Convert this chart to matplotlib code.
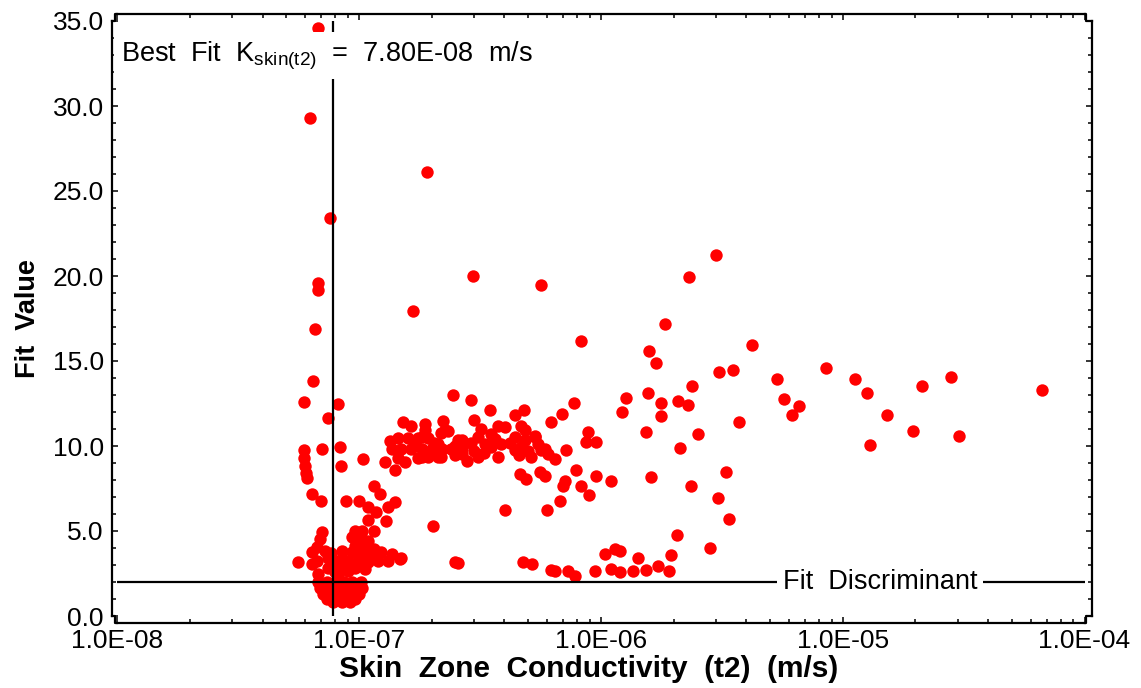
import matplotlib
matplotlib.use("Agg")
import matplotlib.pyplot as plt
from matplotlib.ticker import FixedLocator, LogLocator, MultipleLocator, NullFormatter
from matplotlib.lines import Line2D
from matplotlib.transforms import IdentityTransform
import numpy as np

plt.rcParams['font.family'] = ['Liberation Sans', 'DejaVu Sans']
plt.rcParams['mathtext.fontset'] = 'custom'
plt.rcParams['mathtext.rm'] = 'Liberation Sans'

# ---------------- data ----------------
best_fit_k = 7.80e-8
fit_discriminant = 2.0

# left, near-vertical branch
branch_x = [6.76e-8, 6.3e-8, 7.6e-8, 6.8e-8, 6.8e-8, 6.6e-8, 6.49e-8, 5.93e-8, 8.23e-8, 7.48e-8,
            5.93e-8, 5.93e-8, 6.0e-8, 6.05e-8, 6.08e-8, 7.02e-8, 8.35e-8, 8.43e-8, 6.38e-8, 6.97e-8]
branch_y = [34.6, 29.3, 23.4, 19.6, 19.2, 16.9, 13.8, 12.6, 12.45, 11.67,
            9.74, 9.27, 8.85, 8.44, 8.1, 9.84, 9.94, 8.85, 7.2, 6.75]

# rising branch near 1e-7
rise_x = [8.82e-8, 1.0e-7, 1.04e-7, 1.16e-7, 1.22e-7, 1.09e-7, 1.32e-7, 1.41e-7, 1.09e-7, 1.29e-7,
          1.18e-7, 2.03e-7]
rise_y = [6.75, 6.75, 9.25, 7.67, 7.18, 6.39, 6.39, 6.69, 5.65, 5.57,
          6.1, 5.31]

# dense band around 10
band_x = [1.52e-7, 1.65e-7, 1.87e-7, 2.23e-7, 1.87e-7, 1.45e-7, 1.6e-7, 1.76e-7, 1.94e-7, 2.19e-7,
          2.34e-7, 2.58e-7, 1.365e-7, 1.5e-7, 1.65e-7, 1.82e-7, 2.0e-7, 2.2e-7, 2.41e-7, 2.66e-7,
          1.28e-7, 1.41e-7, 1.55e-7, 1.76e-7, 1.94e-7, 2.19e-7, 2.49e-7, 2.45e-7, 2.92e-7, 2.99e-7,
          1.82e-7, 1.82e-7, 2.13e-7, 2.13e-7, 2.27e-7, 2.66e-7, 2.66e-7, 3.11e-7, 3.11e-7, 3.53e-7,
          3.53e-7, 3.77e-7, 4.01e-7, 4.41e-7, 4.41e-7, 4.85e-7, 4.85e-7, 5.17e-7, 5.33e-7, 5.68e-7,
          6.05e-7, 6.45e-7, 3.31e-7, 3.88e-7, 4.7e-7, 3.21e-7, 3.77e-7, 4.41e-7, 4.82e-7, 6.25e-7,
          6.94e-7, 7.75e-7, 8.85e-7, 9.58e-7, 8.7e-7, 7.16e-7, 5.86e-7, 5.33e-7, 4.7e-7, 7.92e-7,
          4.62e-7, 4.93e-7, 5.59e-7, 5.9e-7, 7.09e-7, 6.98e-7, 8.3e-7, 9.58e-7, 1.1e-6, 8.93e-7,
          6.76e-7, 6.0e-7, 4.01e-7, 1.7e-7, 2.05e-7, 2.5e-7, 2.9e-7, 3.3e-7, 3.65e-7, 4.2e-7,
          4.6e-7, 5.0e-7, 5.5e-7, 2.8e-7, 3.0e-7, 1.35e-7, 1.45e-7, 3.5e-7]
band_y = [11.41, 11.2, 11.3, 11.5, 10.92, 10.45, 10.45, 10.45, 10.45, 10.74,
          10.9, 10.33, 9.8, 9.8, 9.8, 9.8, 9.8, 9.8, 9.8, 9.8,
          9.05, 8.56, 9.05, 9.27, 9.35, 9.35, 9.45, 13.0, 12.73, 11.55,
          10.53, 9.35, 10.14, 9.35, 10.92, 10.33, 9.55, 10.53, 9.35, 10.73,
          9.94, 9.35, 11.12, 10.53, 9.74, 10.92, 10.33, 9.35, 10.53, 9.74,
          9.55, 9.25, 10.14, 10.14, 9.94, 11.0, 11.2, 11.8, 12.1, 11.41,
          11.9, 12.53, 10.82, 10.23, 10.23, 9.74, 9.84, 10.6, 11.2, 8.56,
          8.36, 8.07, 8.46, 8.26, 7.97, 7.67, 7.67, 8.26, 7.93, 7.12,
          6.75, 6.24, 6.24, 10.1, 10.2, 10.0, 10.2, 9.6, 10.4, 10.2,
          9.5, 9.7, 10.1, 9.1, 9.7, 10.3, 9.3, 12.1]

# lower branch just above the discriminant
lower_x = [1.5e-7, 2.58e-7, 2.5e-7, 4.77e-7, 5.2e-7, 6.2e-7, 6.5e-7, 7.3e-7, 7.8e-7, 9.44e-7,
           1.04e-6, 1.14e-6, 1.2e-6, 1.1e-6, 1.2e-6, 1.36e-6, 1.42e-6, 1.54e-6, 1.72e-6, 1.92e-6,
           1.95e-6, 2.07e-6, 2.84e-6]
lower_y = [3.44, 3.11, 3.15, 3.2, 3.05, 2.7, 2.66, 2.66, 2.36, 2.62,
           3.64, 3.94, 3.84, 2.76, 2.56, 2.66, 3.44, 2.7, 2.95, 2.66,
           3.6, 4.78, 4.0]

# scattered upper-right points
upper_x = [1.92e-7, 2.95e-7, 5.68e-7, 1.68e-7, 8.3e-7, 1.69e-6, 1.59e-6, 1.85e-6, 2.31e-6, 3.0e-6,
           4.21e-6, 3.07e-6, 3.52e-6, 1.23e-6, 1.27e-6, 1.57e-6, 1.77e-6, 1.77e-6, 2.08e-6, 2.3e-6,
           2.39e-6, 1.54e-6, 2.52e-6, 2.12e-6, 1.61e-6, 2.37e-6, 3.31e-6, 3.04e-6, 3.38e-6, 3.74e-6,
           5.35e-6, 5.7e-6, 6.15e-6, 6.62e-6, 8.55e-6, 1.12e-5, 1.26e-5, 1.52e-5, 1.3e-5, 2.12e-5,
           2.8e-5, 1.96e-5, 3.03e-5, 6.68e-5]
upper_y = [26.1, 20.0, 19.5, 17.95, 16.2, 14.86, 15.6, 17.18, 19.97, 21.25,
           15.94, 14.36, 14.5, 12.0, 12.8, 13.09, 12.53, 11.75, 12.65, 12.4,
           13.52, 10.82, 10.68, 9.9, 8.16, 7.67, 8.46, 6.95, 5.7, 11.41,
           13.97, 12.75, 11.8, 12.34, 14.56, 13.97, 13.12, 11.8, 10.04, 13.52,
           14.07, 10.86, 10.57, 13.32]

# lower-left clusters (values 2.3 - 5)
cluster_x = [7.02e-8, 6.9e-8, 6.7e-8, 6.38e-8, 7.24e-8, 7.48e-8, 6.7e-8, 6.38e-8, 5.62e-8, 7.48e-8,
             6.8e-8, 8.23e-8, 7.8e-8, 8.0e-8, 7.7e-8, 8.2e-8, 9.63e-8, 1.03e-7, 1.16e-7, 9.33e-8,
             1.03e-7, 1.09e-7, 9.63e-8, 1.06e-7, 1.16e-7, 9.33e-8, 1.03e-7, 1.13e-7, 1.24e-7, 1.365e-7,
             1.48e-7, 8.49e-8, 9.04e-8, 9.95e-8, 1.09e-7, 1.2e-7, 1.32e-7, 8.75e-8, 9.63e-8, 1.06e-7,
             8.23e-8, 9.04e-8, 8.49e-8]
cluster_y = [4.92, 4.53, 4.03, 3.74, 3.84, 3.44, 3.25, 3.05, 3.15, 2.85,
             2.46, 3.25, 3.0, 2.6, 3.7, 2.3, 5.02, 5.02, 5.02, 4.62,
             4.53, 4.43, 4.13, 4.03, 3.94, 3.74, 3.64, 3.64, 3.74, 3.64,
             3.35, 3.35, 3.25, 3.25, 3.15, 3.25, 3.25, 2.95, 2.85, 2.76,
             2.66, 2.66, 3.84]

# bottom blob below the discriminant
blob_x = [6.8e-8, 7.4e-8, 8.0e-8, 8.7e-8, 9.4e-8, 1.02e-7,
          6.9e-8, 7.5e-8, 8.2e-8, 8.9e-8, 9.7e-8, 1.03e-7,
          7.1e-8, 7.8e-8, 8.5e-8, 9.3e-8, 1.0e-7,
          7.4e-8, 8.1e-8, 8.8e-8, 9.6e-8,
          7.8e-8, 8.5e-8, 9.2e-8]
blob_y = [2.0, 2.0, 2.0, 2.0, 2.0, 2.0,
          1.65, 1.65, 1.65, 1.65, 1.65, 1.65,
          1.3, 1.3, 1.3, 1.3, 1.3,
          1.0, 1.0, 1.0, 1.0,
          0.8, 0.8, 0.8]

x_ticks = [1e-8, 1e-7, 1e-6, 1e-5, 1e-4]
x_tick_labels = ["1.0E-08", "1.0E-07", "1.0E-06", "1.0E-05", "1.0E-04"]
y_ticks = [0, 5, 10, 15, 20, 25, 30, 35]
y_tick_labels = ["0.0", "5.0", "10.0", "15.0", "20.0", "25.0", "30.0", "35.0"]

cond = np.array(branch_x + rise_x + band_x + lower_x + upper_x + cluster_x + blob_x)
fit = np.array(branch_y + rise_y + band_y + lower_y + upper_y + cluster_y + blob_y)

# ---------------- figure ----------------
W, H = 1141, 688
fig = plt.figure(figsize=(W / 100, H / 100), dpi=100)
L, R, T, B = 117, 1084.5, 21, 616   # data rectangle in image pixels
ax = fig.add_axes([L / W, 1 - B / H, (R - L) / W, (B - T) / H])

ax.scatter(cond, fit, s=80, color='#ff0000', linewidths=0, zorder=2, clip_on=True)
lw = 1.6
ax.axvline(best_fit_k, color='black', lw=lw, zorder=3)
ax.axhline(fit_discriminant, color='black', lw=lw, zorder=3)

ax.set_xscale('log')
ax.set_xlim(1e-8, 1e-4)
ax.set_ylim(0, 35)
ax.xaxis.set_major_locator(FixedLocator(x_ticks))
ax.set_xticklabels(x_tick_labels)
ax.xaxis.set_minor_locator(LogLocator(base=10, subs=np.arange(2, 10), numticks=20))
ax.xaxis.set_minor_formatter(NullFormatter())
ax.yaxis.set_major_locator(FixedLocator(y_ticks))
ax.set_yticklabels(y_tick_labels)
ax.yaxis.set_minor_locator(MultipleLocator(1))

ax.tick_params(which='both', direction='in', top=True, right=True, width=1.1,
               labelsize=19, color='black')
ax.tick_params(which='major', length=4.5)
ax.tick_params(which='minor', length=3)
ax.tick_params(axis='x', pad=4)
ax.tick_params(axis='y', pad=6)

off = {'left': 5, 'right': 7.5, 'top': 7, 'bottom': 7}
for side, px in off.items():
    ax.spines[side].set_position(('outward', px * 72 / 100))
    ax.spines[side].set_linewidth(1.6)

corners = [
    ([L - 5, L - 2.5, L - 2.5, L], [B, B, B + 7, B + 7]),
    ([L - 5, L - 2.5, L - 2.5, L], [T, T, T - 7, T - 7]),
    ([R, R + 1.5, R + 1.5, R + 7.5], [T - 7, T - 7, T, T]),
    ([R, R + 1.5, R + 1.5, R + 7.5], [B + 7, B + 7, B, B]),
]
for xs, ys in corners:
    fig.add_artist(Line2D(xs, [H - y for y in ys], color='black', lw=1.6,
                          transform=IdentityTransform()))

ax.set_xlabel('Skin  Zone  Conductivity  (t2)  (m/s)', fontsize=21.5, fontweight='bold')
ax.xaxis.set_label_coords(0.487, -0.066)
ax.set_ylabel('Fit  Value', fontsize=19.5, fontweight='bold', labelpad=8)

ax.text(0.004, 0.942, r'Best  Fit  K$_{\mathregular{skin(t2)}}$  =  7.80E-08  m/s',
        transform=ax.transAxes, fontsize=19.5, ha='left', va='center', zorder=5,
        bbox=dict(facecolor='white', edgecolor='none', pad=5))
ax.text(0.789, fit_discriminant, 'Fit  Discriminant', transform=ax.get_yaxis_transform(),
        fontsize=19.5, ha='center', va='center', zorder=5,
        bbox=dict(facecolor='white', edgecolor='none', pad=4))

fig.savefig('out.png', dpi=100)
